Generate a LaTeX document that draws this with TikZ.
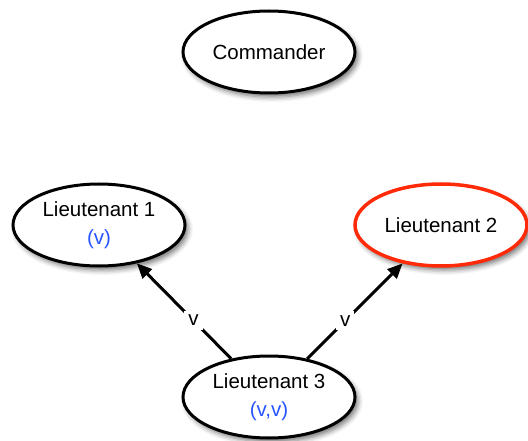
\documentclass[tikz,border=0pt]{standalone}
\usepackage{fontspec}
\setmainfont{Liberation Sans}
\usetikzlibrary{arrows.meta,shapes.geometric,shadows.blur}

\definecolor{traitor}{RGB}{255,42,8}
\definecolor{msgblue}{RGB}{40,85,255}

\tikzset{
    general/.style={ellipse, draw, line width=3pt, fill=white,
        minimum width=172pt, minimum height=82pt, inner sep=0pt,
        align=center, font=\fontsize{20.5}{28}\selectfont,
        blur shadow={shadow xshift=3pt, shadow yshift=-4pt,
            shadow blur radius=5pt, shadow opacity=55}},
    order/.style={line width=3pt, -{Triangle[length=15pt,width=13pt]}},
    msglabel/.style={fill=white, inner sep=4pt, font=\fontsize{20.5}{24}\selectfont}
}

\begin{document}
\begin{tikzpicture}[x=1pt, y=-1pt]
    \useasboundingbox (0,0) rectangle (528,441);

    % Generals
    \node[general] (cmd) at (269,52) {Commander};
    \node[general] (lt1) at (99,225) {Lieutenant 1\\\textcolor{msgblue}{(v)}};
    \node[general, draw=traitor, line width=3.5pt] (lt2) at (441,225) {Lieutenant 2};
    \node[general] (lt3) at (269,397) {Lieutenant 3\\\textcolor{msgblue}{(v,v)}};

    % Messages from lieutenant 3
    \draw[order] (lt3) -- node[msglabel, pos=0.4] {v} (lt1);
    \draw[order] (lt3) -- node[msglabel, pos=0.4] {v} (lt2);
\end{tikzpicture}
\end{document}
